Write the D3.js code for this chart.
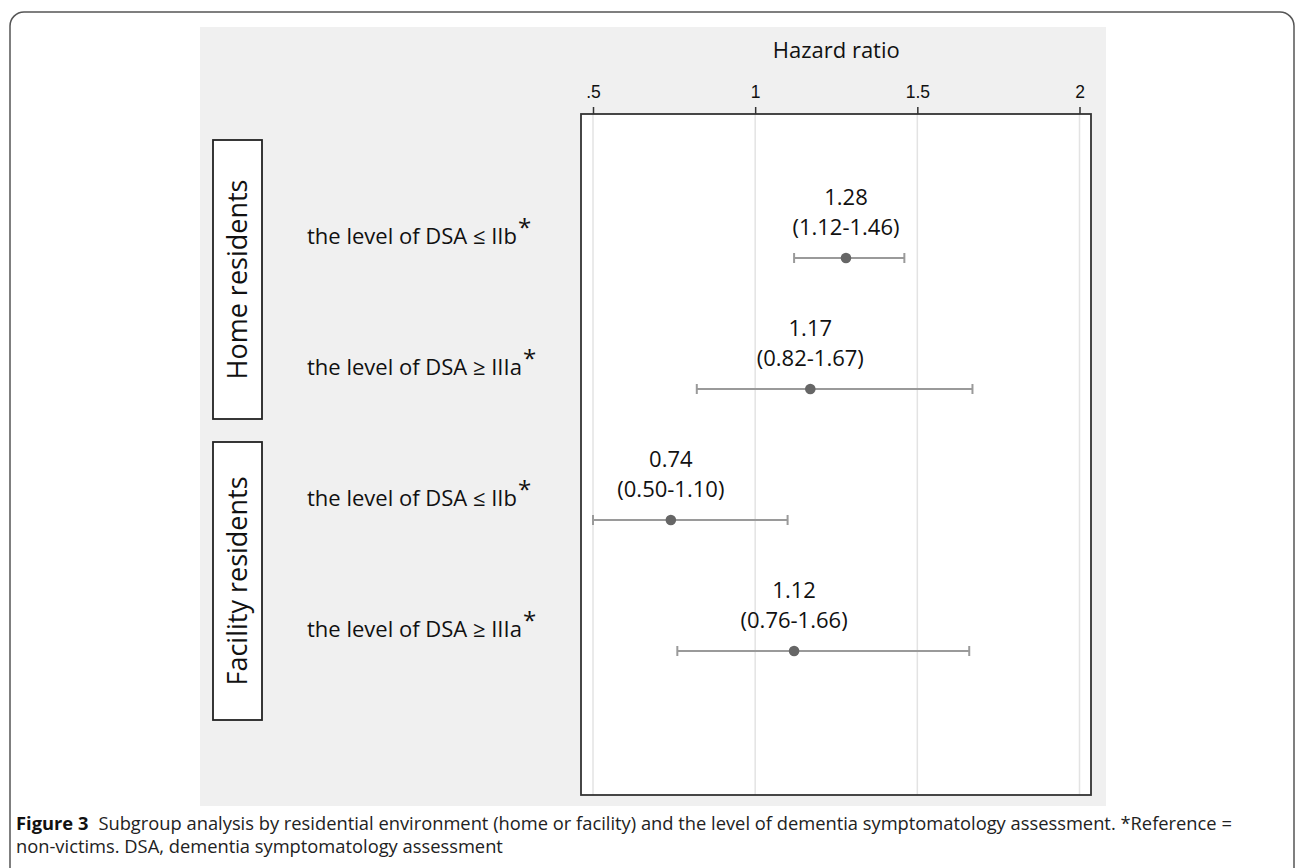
<!DOCTYPE html>
<html>
<head>
<meta charset="utf-8">
<script src="https://cdn.jsdelivr.net/npm/d3@7"></script>
<style>
  body { margin: 0; background: #fff; }
  svg { display: block; }
</style>
</head>
<body>
<div id="chart"></div>
<script>
// Subgroups and estimates
const groups = ['Home residents', 'Facility residents'];
const rowLabels = ['the level of DSA \u2264 IIb', 'the level of DSA \u2265 IIIa', 'the level of DSA \u2264 IIb', 'the level of DSA \u2265 IIIa'];
const hr = [1.28, 1.17, 0.74, 1.12];
const lower = [1.12, 0.82, 0.50, 0.76];
const upper = [1.46, 1.67, 1.10, 1.66];
const xTicks = [0.5, 1, 1.5, 2];
const xTickLabels = ['.5', '1', '1.5', '2'];
const captionBold = 'Figure 3';
const captionLine1 = 'Subgroup analysis by residential environment (home or facility) and the level of dementia symptomatology assessment. *Reference =';
const captionLine2 = 'non-victims. DSA, dementia symptomatology assessment';

const W = 1296, H = 868;
const box = { left: 581, right: 1091, top: 114, bottom: 795 };
const groupBox = [[140, 419], [442, 720]];   // layout of the side boxes

const svg = d3.select('#chart').append('svg')
    .attr('width', W)
    .attr('height', H);

// Outer figure frame
svg.append('rect')
    .attr('x', 10).attr('y', 12)
    .attr('width', 1284).attr('height', 900)
    .attr('rx', 14).attr('ry', 14)
    .attr('fill', 'none')
    .attr('stroke', '#555')
    .attr('stroke-width', 1.5);

// Gray chart background
svg.append('rect')
    .attr('x', 200).attr('y', 27)
    .attr('width', 906).attr('height', 779)
    .attr('fill', '#f0f0f0');

const x = d3.scaleLinear()
    .domain([0.5, 2])
    .range([593, 1079.5]);

const y = d3.scalePoint()
    .domain(d3.range(hr.length))
    .range([258, 651]);

// Plot area
svg.append('rect')
    .attr('x', box.left).attr('y', box.top)
    .attr('width', box.right - box.left).attr('height', box.bottom - box.top)
    .attr('fill', '#fff');

// Vertical gridlines
svg.selectAll('.grid')
    .data(xTicks).enter()
    .append('line')
    .attr('class', 'grid')
    .attr('x1', d => x(d)).attr('x2', d => x(d))
    .attr('y1', box.top).attr('y2', box.bottom)
    .attr('stroke', '#e3e3e3')
    .attr('stroke-width', 1.5);

// Top axis
const axis = svg.append('g')
    .attr('transform', `translate(0,${box.top})`)
    .call(d3.axisTop(x).tickValues(xTicks).tickFormat((d, i) => xTickLabels[i]).tickSize(7).tickPadding(9).tickSizeOuter(0));
axis.select('.domain').remove();
axis.selectAll('line').attr('stroke', '#333').attr('stroke-width', 1.5);
axis.selectAll('text')
    .attr('fill', '#111')
    .style('font-family', '"Liberation Sans", Arial, sans-serif')
    .style('font-size', '17.5px');

const labelFont = '"Open Sans", "Noto Sans", sans-serif';

svg.append('text')
    .attr('x', x(1.25))
    .attr('y', 58)
    .attr('text-anchor', 'middle')
    .style('font-family', labelFont)
    .style('font-size', '22px')
    .attr('fill', '#111')
    .text('Hazard ratio');

// Box frame drawn after grid
svg.append('rect')
    .attr('x', box.left).attr('y', box.top)
    .attr('width', box.right - box.left).attr('height', box.bottom - box.top)
    .attr('fill', 'none')
    .attr('stroke', '#333')
    .attr('stroke-width', 1.8);

// Error bars
const rows = svg.selectAll('.row')
    .data(hr.map((d, i) => ({ hr: d, lo: lower[i], hi: upper[i], label: rowLabels[i], i: i })))
    .enter().append('g')
    .attr('class', 'row');

rows.append('line')
    .attr('x1', d => x(d.lo)).attr('x2', d => x(d.hi))
    .attr('y1', d => y(d.i)).attr('y2', d => y(d.i))
    .attr('stroke', '#9a9a9a')
    .attr('stroke-width', 2);

['lo', 'hi'].forEach(k => {
    rows.append('line')
        .attr('x1', d => x(d[k])).attr('x2', d => x(d[k]))
        .attr('y1', d => y(d.i) - 5).attr('y2', d => y(d.i) + 5)
        .attr('stroke', '#9a9a9a')
        .attr('stroke-width', 2);
});

rows.append('circle')
    .attr('cx', d => x(d.hr))
    .attr('cy', d => y(d.i))
    .attr('r', 5.3)
    .attr('fill', '#666');

rows.append('text')
    .attr('x', d => x(d.hr))
    .attr('y', d => y(d.i) - 53)
    .attr('text-anchor', 'middle')
    .style('font-family', labelFont)
    .style('font-size', '22px')
    .attr('fill', '#111')
    .text(d => d.hr.toFixed(2));

rows.append('text')
    .attr('x', d => x(d.hr))
    .attr('y', d => y(d.i) - 23)
    .attr('text-anchor', 'middle')
    .style('font-family', labelFont)
    .style('font-size', '22px')
    .attr('fill', '#111')
    .text(d => `(${d.lo.toFixed(2)}-${d.hi.toFixed(2)})`);

// Row labels with superscript asterisk
const rl = rows.append('text')
    .attr('x', 307)
    .attr('y', d => y(d.i) - 14)
    .style('font-family', labelFont)
    .style('font-size', '22px')
    .attr('fill', '#111');
rl.append('tspan').text(d => d.label);
rl.append('tspan')
    .attr('dy', -8)
    .attr('dx', 1)
    .style('font-size', '24px')
    .text('*');

// Group boxes
groups.forEach((g, gi) => {
    const [top, bottom] = groupBox[gi];
    svg.append('rect')
        .attr('x', 213).attr('y', top)
        .attr('width', 49).attr('height', bottom - top)
        .attr('fill', '#fff')
        .attr('stroke', '#222')
        .attr('stroke-width', 1.8);
    svg.append('text')
        .attr('transform', `translate(247,${(top + bottom) / 2}) rotate(-90)`)
        .attr('text-anchor', 'middle')
        .style('font-family', labelFont)
        .style('font-size', '27px')
        .attr('fill', '#111')
        .text(g);
});

// Caption, font size fitted to the line width
const cap1 = svg.append('text')
    .attr('x', 16).attr('y', 830)
    .style('font-family', labelFont)
    .style('font-size', '16px')
    .attr('fill', '#222');
cap1.append('tspan')
    .style('font-weight', 'bold')
    .attr('fill', '#111')
    .text(captionBold);
cap1.append('tspan')
    .attr('dx', 10)
    .text(captionLine1);
const fit = 16 * 1207 / cap1.node().getComputedTextLength();
cap1.style('font-size', fit + 'px');

svg.append('text')
    .attr('x', 16).attr('y', 853)
    .style('font-family', labelFont)
    .style('font-size', fit + 'px')
    .attr('fill', '#222')
    .text(captionLine2);
</script>
</body>
</html>
